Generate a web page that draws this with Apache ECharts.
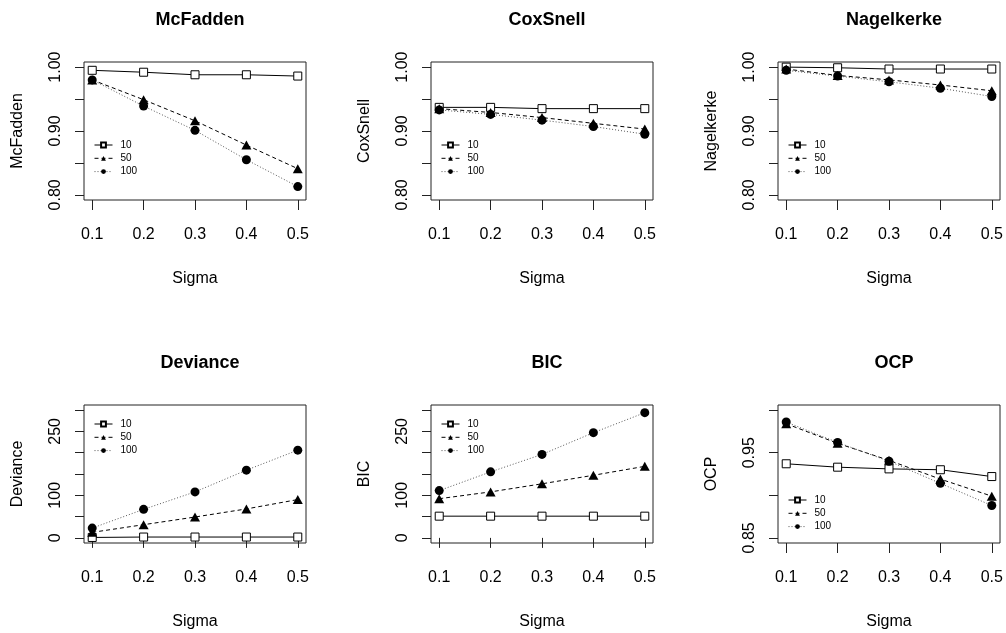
<!DOCTYPE html>
<html>
<head>
<meta charset="utf-8">
<title>Pseudo R2 by sigma</title>
<script src="https://cdn.jsdelivr.net/npm/echarts@6.0.0/dist/echarts.min.js"></script>
<style>
  html, body { margin: 0; padding: 0; background: #fff; }
  #chart { width: 1006px; height: 633px; }
</style>
</head>
<body>
<div id="chart"></div>
<script>
// x values shared by every panel
const sigma = [0.1, 0.2, 0.3, 0.4, 0.5]
const sampleSizes = ['10', '50', '100']

// values, one array per sample size
const mcfadden10 = [0.995, 0.992, 0.988, 0.988, 0.986]
const mcfadden50 = [0.980, 0.949, 0.916, 0.878, 0.841]
const mcfadden100 = [0.980, 0.939, 0.901, 0.855, 0.813]

const coxsnell10 = [0.937, 0.937, 0.935, 0.935, 0.935]
const coxsnell50 = [0.935, 0.929, 0.921, 0.912, 0.903]
const coxsnell100 = [0.933, 0.926, 0.917, 0.907, 0.895]

const nagelkerke10 = [1.000, 0.999, 0.997, 0.997, 0.997]
const nagelkerke50 = [0.997, 0.987, 0.980, 0.972, 0.963]
const nagelkerke100 = [0.995, 0.986, 0.977, 0.967, 0.954]

const deviance10 = [1, 2, 2, 2, 2]
const deviance50 = [13, 31, 49, 68, 90]
const deviance100 = [23, 67, 108, 159, 206]

const bic10 = [51, 51, 51, 51, 51]
const bic50 = [92, 108, 127, 147, 168]
const bic100 = [111, 155, 196, 247, 294]

const ocp10 = [0.937, 0.933, 0.931, 0.930, 0.922]
const ocp50 = [0.984, 0.961, 0.941, 0.919, 0.899]
const ocp100 = [0.986, 0.962, 0.940, 0.914, 0.888]

// tick marks and the labels R kept
const sigmaTicks = [0.1, 0.2, 0.3, 0.4, 0.5]
const ratioTicks = [0.8, 0.85, 0.9, 0.95, 1.0]
const ratioLabels = [0.8, 0.9, 1.0]
const countTicks = [0, 50, 100, 150, 200, 250, 300]
const countLabels = [0, 100, 250]
const ocpTicks = [0.85, 0.9, 0.95, 1.0]
const ocpLabels = [0.85, 0.95]

const FONT = 'Liberation Sans, Arial, Helvetica, sans-serif'

// layout of each panel (plot box in px)
const panels = [
  { title: 'McFadden', series: [mcfadden10, mcfadden50, mcfadden100], ticks: ratioTicks, labels: ratioLabels, min: 0.792, max: 1.008, digits: 2, left: 84, top: 62, legendTop: 78 },
  { title: 'CoxSnell', series: [coxsnell10, coxsnell50, coxsnell100], ticks: ratioTicks, labels: ratioLabels, min: 0.792, max: 1.008, digits: 2, left: 431, top: 62, legendTop: 78 },
  { title: 'Nagelkerke', series: [nagelkerke10, nagelkerke50, nagelkerke100], ticks: ratioTicks, labels: ratioLabels, min: 0.792, max: 1.008, digits: 2, left: 778, top: 62, legendTop: 78 },
  { title: 'Deviance', series: [deviance10, deviance50, deviance100], ticks: countTicks, labels: countLabels, min: -12, max: 312, digits: 0, left: 84, top: 405, legendTop: 14 },
  { title: 'BIC', series: [bic10, bic50, bic100], ticks: countTicks, labels: countLabels, min: -12, max: 312, digits: 0, left: 431, top: 405, legendTop: 14 },
  { title: 'OCP', series: [ocp10, ocp50, ocp100], ticks: ocpTicks, labels: ocpLabels, min: 0.844, max: 1.006, digits: 2, left: 778, top: 405, legendTop: 90 }
]
const BOX_W = 222
const BOX_H = 138

// line / marker style per sample size, like lty 1,2,3 and pch 0,17,16
const seriesStyle = [
  { symbol: 'rect', symbolSize: 8, line: 'solid', fill: '#fff', lineColor: '#000' },
  { symbol: 'triangle', symbolSize: [10, 9], line: [4, 3], fill: '#000', lineColor: '#000' },
  { symbol: 'circle', symbolSize: 9, line: [1, 2], fill: '#000', lineColor: '#555' }
]

const chart = echarts.init(document.getElementById('chart'))

const option = {
  animation: false,
  textStyle: { fontFamily: FONT, color: '#000' },
  title: panels.map(p => ({
    text: p.title,
    left: p.left + BOX_W / 2,
    top: p.top - 56,
    textAlign: 'center',
    textStyle: { fontFamily: FONT, fontSize: 18, fontWeight: 'bold', color: '#000' }
  })),
  legend: panels.map(p => ({
    data: sampleSizes,
    orient: 'vertical',
    left: p.left + 10,
    top: p.top + p.legendTop,
    padding: 0,
    itemWidth: 18,
    itemHeight: 6,
    itemGap: 3.3,
    selectedMode: false,
    lineStyle: { width: 1 },
    textStyle: { fontFamily: FONT, fontSize: 10, color: '#000', padding: [0, 0, 0, 3] }
  })),
  grid: panels.map(p => ({
    left: p.left,
    top: p.top,
    width: BOX_W,
    height: BOX_H,
    show: true,
    borderColor: '#222',
    borderWidth: 1,
    backgroundColor: 'transparent'
  })),
  xAxis: panels.map((p, i) => ({
    type: 'value',
    gridIndex: i,
    min: 0.084,
    max: 0.516,
    name: 'Sigma',
    nameLocation: 'middle',
    nameGap: 71,
    nameTextStyle: { fontFamily: FONT, fontSize: 16, color: '#000' },
    axisLine: { show: false },
    splitLine: { show: false },
    axisTick: { show: true, length: 10, customValues: sigmaTicks, lineStyle: { color: '#222' } },
    axisLabel: {
      customValues: sigmaTicks,
      margin: 27,
      fontFamily: FONT,
      fontSize: 16,
      color: '#000',
      formatter: v => v.toFixed(1)
    }
  })),
  yAxis: panels.map((p, i) => ({
    type: 'value',
    gridIndex: i,
    min: p.min,
    max: p.max,
    name: p.title,
    nameLocation: 'middle',
    nameGap: 58,
    nameTextStyle: { fontFamily: FONT, fontSize: 16, color: '#000' },
    axisLine: { show: false },
    splitLine: { show: false },
    axisTick: { show: true, length: 9, customValues: p.ticks, lineStyle: { color: '#222' } },
    axisLabel: {
      customValues: p.labels,
      rotate: 90,
      margin: 20,
      fontFamily: FONT,
      fontSize: 16,
      color: '#000',
      formatter: v => v.toFixed(p.digits)
    }
  })),
  series: []
}

panels.forEach((p, i) => {
  p.series.forEach((values, k) => {
    const st = seriesStyle[k]
    option.series.push({
      type: 'line',
      name: sampleSizes[k],
      xAxisIndex: i,
      yAxisIndex: i,
      data: sigma.map((s, j) => [s, values[j]]),
      symbol: st.symbol,
      symbolSize: st.symbolSize,
      showAllSymbol: true,
      z: 2 + k,
      lineStyle: { color: st.lineColor, width: 1, type: st.line },
      itemStyle: { color: st.fill, borderColor: '#000', borderWidth: k === 0 ? 1 : 0, opacity: 1 },
      emphasis: { disabled: true }
    })
  })
})

chart.setOption(option)
</script>
</body>
</html>
